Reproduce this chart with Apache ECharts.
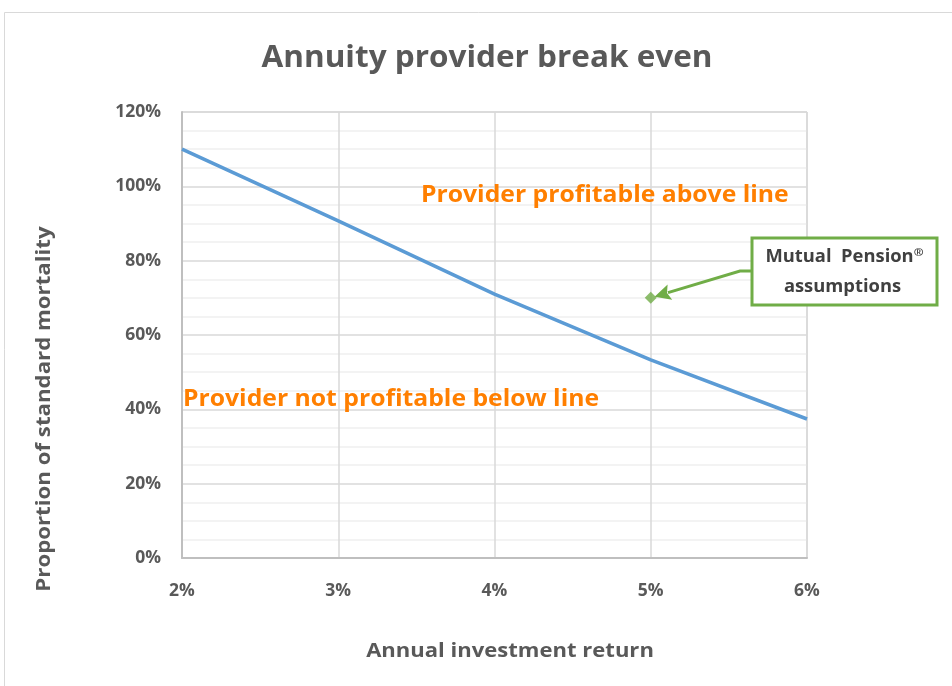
<!DOCTYPE html>
<html>
<head>
<meta charset="utf-8">
<script src="https://cdn.jsdelivr.net/npm/echarts@6/dist/echarts.min.js"></script>
<style>
html,body{margin:0;padding:0;background:#fff;}
#chart{width:952px;height:686px;}
</style>
</head>
<body>
<div id="chart"></div>
<script>
// Data
const returns = [2, 3, 4, 5, 6];                 // annual investment return (%)
const breakEven = [110, 90.7, 71.0, 53.3, 37.4];  // proportion of standard mortality (%)
const mutualPoint = [5, 70];                      // Mutual Pension assumptions
const xTicks = ['2%', '3%', '4%', '5%', '6%'];
const yTicks = ['0%', '20%', '40%', '60%', '80%', '100%', '120%'];

const FONT = 'Open Sans';
const GRAY = '#595959';
const chart = echarts.init(document.getElementById('chart'), null, {renderer: 'canvas'});

const option = {
  animation: false,
  backgroundColor: '#fff',
  grid: {left: 182, right: 145, top: 112, bottom: 128, show: true, borderColor: '#c4c4c4', borderWidth: 1},
  xAxis: {
    type: 'value', min: 2, max: 6, interval: 1,
    axisLine: {show: true, lineStyle: {color: '#bfbfbf', width: 2}},
    axisTick: {show: false},
    splitLine: {show: true, lineStyle: {color: '#d9d9d9', width: 1.5}},
    axisLabel: {
      margin: 24, fontFamily: FONT, fontSize: 17.5, fontWeight: 'bold', color: GRAY,
      formatter: v => xTicks[returns.indexOf(v)] ?? ''
    }
  },
  yAxis: {
    type: 'value', min: 0, max: 120, interval: 20,
    axisLine: {show: true, lineStyle: {color: '#bfbfbf', width: 2}},
    axisTick: {show: false},
    splitLine: {show: true, lineStyle: {color: '#d9d9d9', width: 1.5}},
    minorTick: {show: false, splitNumber: 4},
    minorSplitLine: {show: true, lineStyle: {color: '#efefef', width: 1.5}},
    axisLabel: {
      margin: 21, fontFamily: FONT, fontSize: 17.5, fontWeight: 'bold', color: GRAY,
      formatter: v => yTicks[Math.round(v / 20)] ?? ''
    }
  },
  series: [
    {
      type: 'line', name: 'Break even',
      data: returns.map((x, i) => [x, breakEven[i]]),
      showSymbol: false, symbol: 'none',
      lineStyle: {color: '#5b9bd5', width: 3.5},
      z: 3
    },
    {
      type: 'scatter', name: 'Mutual Pension',
      data: [mutualPoint],
      symbol: 'diamond', symbolSize: 12,
      itemStyle: {color: '#70ad47'},
      z: 4
    }
  ]
};
chart.setOption(option);

// Annotations positioned from the library's scales
const tip = chart.convertToPixel({gridIndex: 0}, mutualPoint);
const boxX = 752, boxY = 238, boxW = 185, boxH = 67;
const elbowX = 740, elbowY = 271;
const ang = Math.atan2(elbowY - tip[1], elbowX - tip[0]);
const headLen = 16, headW = 8;
const bx = tip[0] + 4 * Math.cos(ang), by = tip[1] + 4 * Math.sin(ang);
const hx = bx + headLen * Math.cos(ang), hy = by + headLen * Math.sin(ang);
const px = -Math.sin(ang), py = Math.cos(ang);

chart.setOption({
  graphic: [
    {type: 'rect', silent: true, shape: {x: 4.5, y: 12.5, width: 980, height: 720},
     style: {fill: 'none', stroke: '#d9d9d9', lineWidth: 1}, z: -10},
    {type: 'text', x: 487, y: 58, scaleX: 1.05, style: {
      text: 'Annuity provider break even', fontFamily: FONT, fontSize: 30, fontWeight: 'bold',
      fill: GRAY, align: 'center', verticalAlign: 'middle'}},
    {type: 'text', x: 45, y: 409, rotation: Math.PI / 2, scaleX: 1.17, style: {
      text: 'Proportion of standard mortality', fontFamily: FONT, fontSize: 19, fontWeight: 'bold',
      fill: GRAY, align: 'center', verticalAlign: 'middle'}},
    {type: 'text', x: 510, y: 652, scaleX: 1.16, style: {
      text: 'Annual investment return', fontFamily: FONT, fontSize: 19, fontWeight: 'bold',
      fill: GRAY, align: 'center', verticalAlign: 'middle'}},
    {type: 'text', x: 421, y: 195, z: 10, scaleX: 1.03, style: {
      text: 'Provider profitable above line', fontFamily: FONT, fontSize: 24, fontWeight: 'bold',
      fill: '#ff7f00', align: 'left', verticalAlign: 'middle'}},
    {type: 'text', x: 183, y: 399, z: 10, scaleX: 1.03, style: {
      text: 'Provider not profitable below line', fontFamily: FONT, fontSize: 24, fontWeight: 'bold',
      fill: '#ff7f00', align: 'left', verticalAlign: 'middle'}},
    {type: 'polyline', z: 10, shape: {points: [[boxX, elbowY], [elbowX, elbowY], [hx - 2 * Math.cos(ang), hy - 2 * Math.sin(ang)]]},
     style: {stroke: '#70ad47', lineWidth: 3, fill: 'none'}},
    {type: 'polygon', z: 10, shape: {points: [[bx, by], [hx + px * headW, hy + py * headW], [hx - 3 * Math.cos(ang), hy - 3 * Math.sin(ang)], [hx - px * headW, hy - py * headW]]},
     style: {fill: '#70ad47'}},
    {type: 'rect', z: 10, shape: {x: boxX, y: boxY, width: boxW, height: boxH},
     style: {fill: '#fff', stroke: '#70ad47', lineWidth: 3}},
    {type: 'text', z: 11, x: boxX + boxW / 2, y: 257, scaleX: 1.08, style: {
      text: 'Mutual  Pension{sup|®}', fontFamily: FONT, fontSize: 17, fontWeight: 'bold',
      fill: '#404040', align: 'center', verticalAlign: 'middle',
      rich: {sup: {fontFamily: FONT, fontSize: 11, fontWeight: 'bold', fill: '#404040', verticalAlign: 'top', padding: [0, 0, 8, 0]}}}},
    {type: 'text', z: 11, x: boxX + boxW / 2 - 2, y: 287, scaleX: 1.08, style: {
      text: 'assumptions', fontFamily: FONT, fontSize: 17, fontWeight: 'bold',
      fill: '#404040', align: 'center', verticalAlign: 'middle'}}
  ]
});
</script>
</body>
</html>
